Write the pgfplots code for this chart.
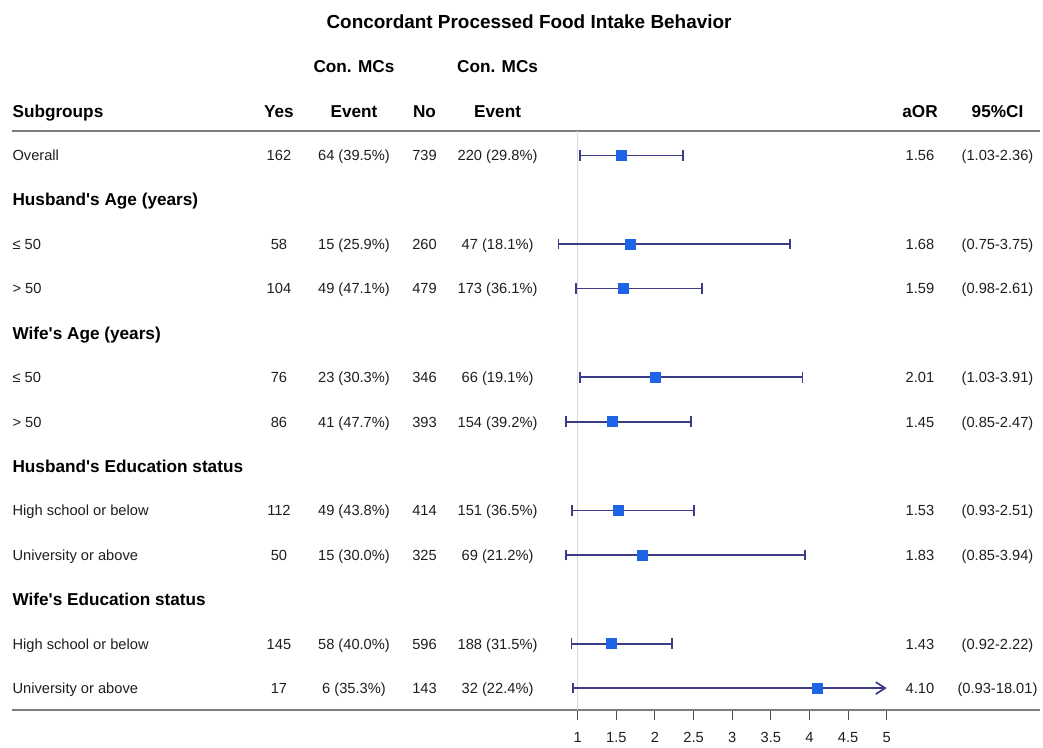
\documentclass[border=0pt]{standalone}
\usepackage{fontspec}
\setmainfont{Liberation Sans}
\usepackage{pgfplots}
\usepackage{pgfplotstable}
\pgfplotsset{compat=1.18}
\usetikzlibrary{arrows.meta}
\definecolor{ci}{RGB}{60,60,135}
\definecolor{sq}{RGB}{30,100,230}
\definecolor{rulec}{RGB}{125,125,125}
\definecolor{txt}{RGB}{30,30,30}

\pgfplotstableread{
x y lo hi
1.56 -1 1.03 2.36
1.68 -3 0.75 3.75
1.59 -4 0.98 2.61
2.01 -6 1.03 3.91
1.45 -7 0.85 2.47
1.53 -9 0.93 2.51
1.83 -10 0.85 3.94
1.43 -12 0.92 2.22
}\cidata

\pgfplotstableread{
x y lo hi
4.10 -13 0.93 18.01
}\cilast

\tikzset{
  body/.style={font=\fontsize{11}{13}\selectfont, text=txt, inner sep=0pt},
  head/.style={font=\fontsize{12.9}{15}\selectfont\bfseries, text=black, inner sep=0pt},
}
\newcommand{\datarow}[8]{%
  \node[body,anchor=base west] at (axis cs:-6.319,-#1-0.12) {#2};
  \node[body,anchor=base] at (axis cs:-2.867,-#1-0.12) {#3};
  \node[body,anchor=base] at (axis cs:-1.896,-#1-0.12) {#4};
  \node[body,anchor=base] at (axis cs:-0.983,-#1-0.12) {#5};
  \node[body,anchor=base] at (axis cs:-0.037,-#1-0.12) {#6};
  \node[body,anchor=base] at (axis cs:5.431,-#1-0.12) {#7};
  \node[body,anchor=base] at (axis cs:6.434,-#1-0.12) {#8};
}
\newcommand{\grouprow}[2]{%
  \node[head,anchor=base west] at (axis cs:-6.319,-#1-0.14) {#2};
}

\begin{document}
\begin{tikzpicture}
\begin{axis}[
  scale only axis,
  width=771pt, height=532.5pt,
  xmin=-6.32, xmax=6.985,
  ymin=-13.491, ymax=2.5,
  clip=false,
  axis x line*=bottom,
  axis y line=none,
  axis line style={rulec, line width=1pt},
  xtick={1,1.5,2,2.5,3,3.5,4,4.5,5},
  tick align=outside,
  major tick length=7.5pt,
  major tick style={black!70, line width=0.8pt},
  xticklabel style={font=\fontsize{11}{13}\selectfont, text=txt, yshift=-6pt},
  /pgf/number format/assume math mode=true,
]
% bounding box
\path (axis cs:-6.478,2.5) rectangle (axis cs:7.023,-14.324);
% header rule
\draw[rulec, line width=1pt] (axis cs:-6.32,-0.45) -- (axis cs:6.985,-0.45);
% reference line
\addplot[black!15, line width=1pt] coordinates {(1,-0.45) (1,-13.491)};

% CIs and estimates
\addplot[only marks, mark=square*, mark size=3.75pt, sq,
  error bars/.cd, x dir=both, x explicit,
  error bar style={ci, line width=1.3pt},
  error mark options={ci, line width=1.3pt, mark size=4pt, rotate=90}]
  table[x=x, y=y, x error minus expr=\thisrow{x}-\thisrow{lo}, x error plus expr=\thisrow{hi}-\thisrow{x}] {\cidata};
\addplot[ci, line width=1.3pt, {Bar[width=8pt]}-{Straight Barb[length=7pt,width=9pt,line width=1.3pt]}]
  coordinates {(0.93,-13) (5,-13)};
\addplot[only marks, mark=square*, mark size=3.75pt, sq] table[x=x, y=y] {\cilast};

% title and headers
\node[font=\fontsize{14.2}{17}\selectfont\bfseries, anchor=base, inner sep=0pt] at (axis cs:0.370,1.847) {Concordant Processed Food Intake Behavior};
\node[head,anchor=base] at (axis cs:-1.896,0.86) {Con. MCs};
\node[head,anchor=base] at (axis cs:-0.037,0.86) {Con. MCs};
\node[head,anchor=base west] at (axis cs:-6.319,-0.14) {Subgroups};
\node[head,anchor=base] at (axis cs:-2.867,-0.14) {Yes};
\node[head,anchor=base] at (axis cs:-1.896,-0.14) {Event};
\node[head,anchor=base] at (axis cs:-0.983,-0.14) {No};
\node[head,anchor=base] at (axis cs:-0.037,-0.14) {Event};
\node[head,anchor=base] at (axis cs:5.431,-0.14) {aOR};
\node[head,anchor=base] at (axis cs:6.434,-0.14) {95\%CI};

\datarow{1}{Overall}{162}{64 (39.5\%)}{739}{220 (29.8\%)}{1.56}{(1.03-2.36)}
\grouprow{2}{Husband\textquotesingle s Age (years)}
\datarow{3}{≤ 50}{58}{15 (25.9\%)}{260}{47 (18.1\%)}{1.68}{(0.75-3.75)}
\datarow{4}{> 50}{104}{49 (47.1\%)}{479}{173 (36.1\%)}{1.59}{(0.98-2.61)}
\grouprow{5}{Wife\textquotesingle s Age (years)}
\datarow{6}{≤ 50}{76}{23 (30.3\%)}{346}{66 (19.1\%)}{2.01}{(1.03-3.91)}
\datarow{7}{> 50}{86}{41 (47.7\%)}{393}{154 (39.2\%)}{1.45}{(0.85-2.47)}
\grouprow{8}{Husband\textquotesingle s Education status}
\datarow{9}{High school or below}{112}{49 (43.8\%)}{414}{151 (36.5\%)}{1.53}{(0.93-2.51)}
\datarow{10}{University or above}{50}{15 (30.0\%)}{325}{69 (21.2\%)}{1.83}{(0.85-3.94)}
\grouprow{11}{Wife\textquotesingle s Education status}
\datarow{12}{High school or below}{145}{58 (40.0\%)}{596}{188 (31.5\%)}{1.43}{(0.92-2.22)}
\datarow{13}{University or above}{17}{6 (35.3\%)}{143}{32 (22.4\%)}{4.10}{(0.93-18.01)}
\end{axis}
\end{tikzpicture}
\end{document}
